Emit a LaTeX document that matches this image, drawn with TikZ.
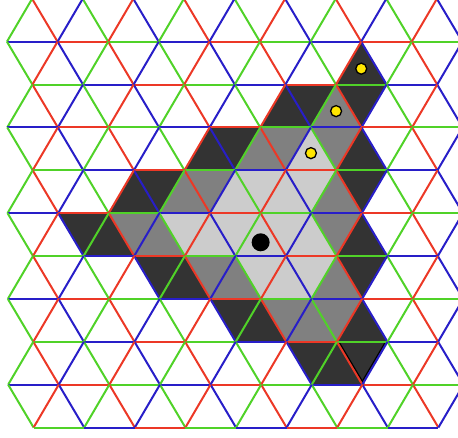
\documentclass[tikz,border=0pt]{standalone}
\definecolor{bond0}{RGB}{40,30,200}
\definecolor{bond1}{RGB}{80,210,40}
\definecolor{bond2}{RGB}{236,56,38}
\definecolor{tokenyellow}{RGB}{255,230,0}

\begin{document}
\begin{tikzpicture}[
          bond/.style={line width=2pt},
          dark/.style={fill=black!80},
          mid/.style={fill=black!50},
          light/.style={fill=black!20},
          token/.style={circle, draw=black, line width=1.3pt, fill=tokenyellow,
            minimum size=11pt, inner sep=0pt},
          marker/.style={circle, fill=black, minimum size=18pt, inner sep=0pt},
        ]
          \useasboundingbox (0,0) rectangle (458pt,-437pt);
          \clip (0,0) rectangle (458pt,-437pt);
          \begin{scope}[shift={(6.8pt,1.2pt)}, x={(25.3pt,0pt)}, y={(0.15pt,-42.87pt)}]
          % up triangles: apex row/col, down triangles: top row/bottom col
          \foreach \r/\p in {1/14,2/11,3/8,3/14,4/5,5/4,5/14,6/7,7/10,7/14,8/13}
            \fill[dark] (\p,\r) -- (\p-1,\r+1) -- (\p+1,\r+1) -- cycle;
          \foreach \r/\p in {2/12,2/14,3/9,4/6,4/14,5/3,6/6,6/14,7/9,8/12,8/14}
            \fill[dark] (\p-1,\r) -- (\p+1,\r) -- (\p,\r+1) -- cycle;
          \foreach \r/\p in {2/13,3/10,4/7,4/13,5/6,6/9,6/13,7/12}
            \fill[mid] (\p,\r) -- (\p-1,\r+1) -- (\p+1,\r+1) -- cycle;
          \foreach \r/\p in {3/11,3/13,4/8,5/5,5/13,6/8,7/11,7/13}
            \fill[mid] (\p-1,\r) -- (\p+1,\r) -- (\p,\r+1) -- cycle;
          \foreach \r/\p in {3/12,4/9,4/11,5/8,5/10,5/12,6/11}
            \fill[light] (\p,\r) -- (\p-1,\r+1) -- (\p+1,\r+1) -- cycle;
          \foreach \r/\p in {4/10,4/12,5/7,5/9,5/11,6/10,6/12}
            \fill[light] (\p-1,\r) -- (\p+1,\r) -- (\p,\r+1) -- cycle;
          \coordinate (k1) at (13,8);
          \coordinate (k2) at (14,9);
          \coordinate (k3) at (15,8);
          \draw[black, line width=1.2pt] ([xshift=2pt]k1) -- ([xshift=2pt]k2);
          \draw[black, line width=1.2pt] ([xshift=-2pt]k3) -- ([xshift=-2pt]k2);
          % lattice bonds
          \foreach \r in {0,...,10}{
            \pgfmathtruncatemacro\pa{1-mod(\r,2)}
            \pgfmathtruncatemacro\pb{\pa+2}
            \pgfmathtruncatemacro\pz{17+mod(\r,2)}
            \pgfmathtruncatemacro\pn{17+mod(\r+1,2)}
            \foreach \p in {\pa,\pb,...,\pz}{
              \ifnum\p<\pz
                \pgfmathtruncatemacro\k{mod(\p,3)}
                \draw[bond, color=bond\k] (\p,\r) -- (\p+2,\r);
              \fi
              \ifnum\r<10
                \ifnum\p<\pn
                  \pgfmathtruncatemacro\k{mod((23+3*\r-\p)/2,3)}
                  \draw[bond, color=bond\k] (\p,\r) -- (\p+1,\r+1);
                \fi
                \ifnum\p>0
                  \pgfmathtruncatemacro\k{mod((21+3*\r-\p)/2,3)}
                  \draw[bond, color=bond\k] (\p,\r) -- (\p-1,\r+1);
                \fi
              \fi
            }
          }
          \node[token]  (t1)    at (14,1.63) {};
          \node[token]  (t2)    at (13,2.62) {};
          \node[token]  (t3)    at (12,3.6)  {};
          \node[marker] (start) at (10,5.68) {};
          \end{scope}
        \end{tikzpicture}
\end{document}
